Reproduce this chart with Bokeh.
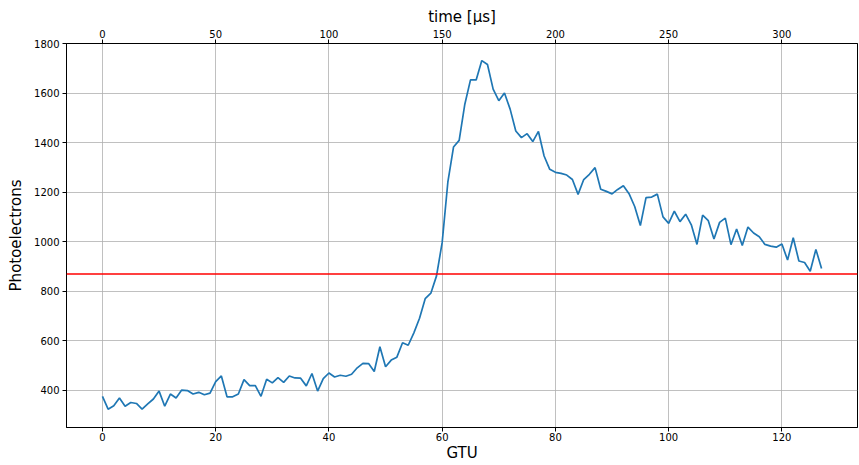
from bokeh.plotting import figure
from bokeh.models import Range1d, LinearAxis, Span, FixedTicker
from bokeh.embed import file_html
from bokeh.resources import INLINE

gtu = list(range(128))
photoelectrons = [
    376, 324, 338, 369, 336, 351, 347, 324, 345, 365,
    397, 336, 385, 369, 401, 399, 385, 392, 382, 389,
    435, 458, 374, 374, 385, 443, 419, 419, 376, 445,
    430, 451, 432, 458, 450, 449, 418, 468, 397, 447,
    470, 454, 461, 457, 465, 491, 509, 508, 476, 576,
    495, 522, 534, 592, 582, 632, 691, 770, 792, 862,
    997, 1240, 1382, 1409, 1555, 1653, 1653, 1731, 1715, 1616,
    1569, 1600, 1535, 1447, 1420, 1436, 1404, 1445, 1346, 1292,
    1280, 1276, 1269, 1251, 1191, 1251, 1272, 1299, 1212, 1203,
    1193, 1211, 1226, 1194, 1142, 1065, 1178, 1180, 1192, 1100,
    1074, 1123, 1081, 1111, 1068, 989, 1107, 1085, 1011, 1078,
    1095, 988, 1051, 985, 1059, 1035, 1020, 989, 982, 978,
    991, 926, 1016, 922, 916, 881, 969, 892,
]
threshold = 870
gtu_ticks = [0, 20, 40, 60, 80, 100, 120]
y_ticks = [400, 600, 800, 1000, 1200, 1400, 1600, 1800]
time_ticks = [0, 50, 100, 150, 200, 250, 300]
us_per_gtu = 2.5

xmin, xmax = -6.35, 133.35
p = figure(width=859, height=465, output_backend="svg", toolbar_location=None,
           x_range=Range1d(xmin, xmax), y_range=Range1d(250, 1800),
           min_border_left=66, min_border_right=2, min_border_top=43, min_border_bottom=38)
p.extra_x_ranges = {"time": Range1d(xmin * us_per_gtu, xmax * us_per_gtu)}

font = "DejaVu Sans"

def style(ax, label, label_standoff=2, tick_standoff=2):
    ax.axis_label = label
    ax.axis_label_text_font = font
    ax.axis_label_text_font_size = "15px"
    ax.axis_label_text_font_style = "normal"
    ax.axis_label_text_color = "black"
    ax.axis_label_standoff = label_standoff
    ax.major_label_text_font = font
    ax.major_label_text_font_size = "10px"
    ax.major_label_text_color = "black"
    ax.major_label_standoff = tick_standoff
    ax.major_tick_out = 4
    ax.major_tick_in = 0
    ax.minor_tick_out = 0
    ax.minor_tick_in = 0
    ax.axis_line_color = "black"
    ax.major_tick_line_color = "black"

p.xaxis.ticker = FixedTicker(ticks=gtu_ticks)
p.yaxis.ticker = FixedTicker(ticks=y_ticks)
style(p.xaxis[0], "GTU", 0, 1)
style(p.yaxis[0], "Photoelectrons", 6, 3)

top = LinearAxis(x_range_name="time", ticker=FixedTicker(ticks=time_ticks))
style(top, "time [μs]", 1, 2)
p.add_layout(top, "above")

p.xgrid.ticker = FixedTicker(ticks=gtu_ticks)
for g in (p.xgrid[0], p.ygrid[0]):
    g.grid_line_color = "#b0b0b0"
    g.grid_line_width = 0.8

p.outline_line_color = "black"
p.outline_line_width = 1
p.outline_line_alpha = 1

p.line(gtu, photoelectrons, line_color="#1f77b4", line_width=1.7)
p.add_layout(Span(location=threshold, dimension="width", line_color="red", line_width=1.5))

open("out.html", "w").write(file_html(p, INLINE))
